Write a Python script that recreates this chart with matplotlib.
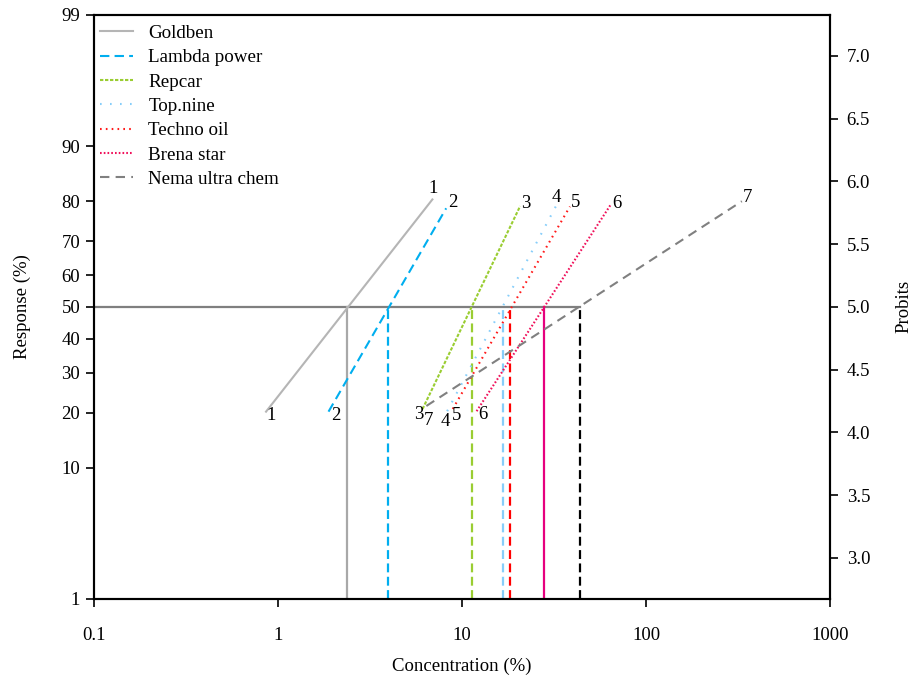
import matplotlib.pyplot as plt
import numpy as np
from matplotlib.ticker import NullLocator
from statistics import NormalDist

plt.rcParams['font.family'] = ['Liberation Serif', 'DejaVu Serif']

# 数据
products = ['Goldben', 'Lambda power', 'Repcar', 'Top.nine', 'Techno oil', 'Brena star', 'Nema ultra chem']
numbers = ['1', '2', '3', '4', '5', '6', '7']
conc_low = [0.86, 1.88, 6.1, 8.3, 8.9, 12.0, 6.4]
resp_low = [20.2, 20.2, 20.8, 20.3, 20.8, 20.3, 21.5]
conc_high = [6.9, 8.2, 20.7, 32.5, 38.6, 64.0, 332]
resp_high = [80.4, 78.4, 78.9, 79.0, 78.8, 79.1, 80.0]
lc50 = [2.38, 3.96, 11.3, 16.7, 18.3, 28.0, 43.9]

resp_ticks = [1, 10, 20, 30, 40, 50, 60, 70, 80, 90, 99]
probit_ticks = [3.0, 3.5, 4.0, 4.5, 5.0, 5.5, 6.0, 6.5, 7.0]
conc_ticks = [0.1, 1, 10, 100, 1000]

# 样式
line_colors = ['#b5b5b5', '#00aeef', '#9acd32', '#87cefa', '#ff1a1a', '#f0105a', '#808080']
line_dashes = [None, (4.5, 2.5), (1.6, 0.8), (0.8, 4.0), (0.8, 2.0), (0.8, 1.0), (4.5, 3.0)]
vline_colors = ['#a8a8a8', '#00aeef', '#9acd32', '#87cefa', '#ff0000', '#e6007e', '#000000']
vline_dashed = [False, True, True, True, True, False, True]
top_off = [(1, 11), (7, 6), (6, 3), (0, 8), (6, 4), (7, 2), (6, 4)]
low_off = [(5, -4), (7, -4), (-4, -5), (-2, -10), (4, -6), (6, -3), (2, -15)]

FS = 13.5


def probit(p):
  return 5 + NormalDist().inv_cdf(p / 100.0)


fig, ax = plt.subplots(figsize=(9.14, 6.76), dpi=100)
fig.subplots_adjust(left=0.103, right=0.908, top=0.978, bottom=0.114)

ymin, ymax = probit(1), probit(99)

#50%水平线
ax.plot([0.1, lc50[-1]], [5, 5], color='#7f7f7f', lw=1.6, zorder=2)

#LC50垂直线
for x, c, d in zip(lc50, vline_colors, vline_dashed):
  ax.plot([x, x], [ymin, 5], color=c, lw=1.6, linestyle=(0, (4, 2)) if d else '-', zorder=2)

#回归线
for i in range(len(products)):
  xs = [conc_low[i], conc_high[i]]
  ys = [probit(resp_low[i]), probit(resp_high[i])]
  ls = '-' if line_dashes[i] is None else (0, line_dashes[i])
  ax.plot(xs, ys, color=line_colors[i], lw=1.5, linestyle=ls, label=products[i], zorder=3)
  ax.annotate(numbers[i], (xs[1], ys[1]), xytext=top_off[i], textcoords='offset pixels',
              ha='center', va='center', fontsize=FS)
  ax.annotate(numbers[i], (xs[0], ys[0]), xytext=low_off[i], textcoords='offset pixels',
              ha='center', va='center', fontsize=FS)

ax.set_xscale('log')
ax.set_xlim(0.1, 1000)
ax.set_ylim(ymin, ymax)
ax.set_xticks(conc_ticks)
ax.set_xticklabels([('%g' % v) for v in conc_ticks])
ax.xaxis.set_minor_locator(NullLocator())
ax.set_yticks([probit(v) for v in resp_ticks])
ax.set_yticklabels([str(v) for v in resp_ticks])
ax.set_xlabel('Concentration (%)', fontsize=FS, labelpad=10)
ax.set_ylabel('Response (%)', fontsize=FS, labelpad=22)

ax2 = ax.twinx()
ax2.set_ylim(ymin, ymax)
ax2.set_yticks(probit_ticks)
ax2.set_yticklabels(['%.1f' % v for v in probit_ticks])
ax2.set_ylabel('Probits', fontsize=FS, labelpad=18)

for a in (ax, ax2):
  a.tick_params(direction='out', length=6, width=1.2, labelsize=FS)
  for s in a.spines.values():
    s.set_linewidth(1.5)
ax.tick_params(axis='x', pad=14)
ax.tick_params(axis='y', pad=4)
ax2.tick_params(axis='y', pad=6)

ax.legend(loc='upper left', bbox_to_anchor=(0.0, 0.993), frameon=False, fontsize=13.7,
          handlelength=1.75, labelspacing=0.37, borderaxespad=0.0, borderpad=0.3,
          handletextpad=0.8)

plt.savefig('out.png', dpi=100)
